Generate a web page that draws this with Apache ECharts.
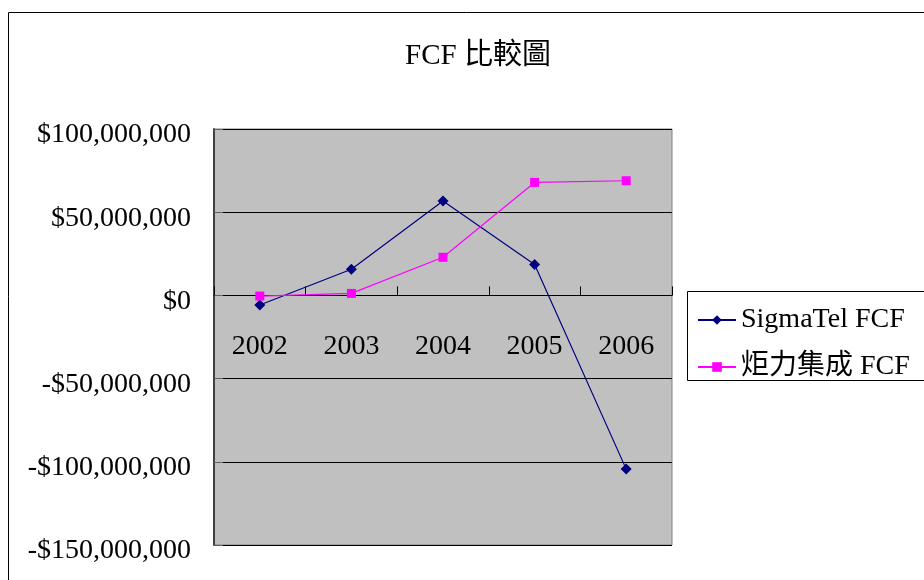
<!DOCTYPE html>
<html>
<head>
<meta charset="utf-8">
<script src="https://cdn.jsdelivr.net/npm/echarts@6/dist/echarts.min.js"></script>
<style>
html,body{margin:0;padding:0;background:#fff;}
#chart{width:924px;height:580px;}
</style>
</head>
<body>
<div id="chart"></div>
<script>
var titleText = 'FCF 比較圖';
var years = ['2002', '2003', '2004', '2005', '2006'];
var seriesNames = ['SigmaTel FCF', '炬力集成 FCF'];
var sigmaTel = [-5800000, 15700000, 56700000, 18500000, -104400000];
var actions = [-400000, 1200000, 22900000, 67900000, 68900000];
var yTicks = [-150000000, -100000000, -50000000, 0, 50000000, 100000000];

var FONT = '"Liberation Serif", "Noto Sans CJK TC", serif';

function fmtMoney(v) {
  var neg = v < 0;
  var s = Math.abs(Math.round(v)).toString().replace(/\B(?=(\d{3})+(?!\d))/g, ',');
  return (neg ? '-$' : '$') + s;
}

var chart = echarts.init(document.getElementById('chart'));
chart.setOption({
  animation: false,
  backgroundColor: '#ffffff',
  graphic: [{
    type: 'rect',
    shape: {x: 8.5, y: 12.5, width: 960, height: 620},
    style: {fill: 'none', stroke: '#000', lineWidth: 1},
    silent: true, z: -10
  }, {
    type: 'rect',
    shape: {x: 687.5, y: 291.5, width: 400, height: 89},
    style: {fill: '#fff', stroke: '#000', lineWidth: 1},
    silent: true, z: -5
  }],
  title: {
    text: titleText,
    left: 473, textAlign: 'center', top: 37,
    textStyle: {fontFamily: FONT, fontSize: 29, fontWeight: 'normal', color: '#000'}
  },
  legend: {
    orient: 'vertical',
    left: 687, top: 292,
    padding: [12, 10, 1, 10],
    borderWidth: 0,
    itemWidth: 38, itemHeight: 12, itemGap: 15,
    textStyle: {fontFamily: FONT, fontSize: 28, color: '#000', lineHeight: 32},
    data: seriesNames
  },
  grid: {
    left: 214, top: 129, right: 252, bottom: 35,
    outerBoundsMode: 'none',
    show: true, backgroundColor: '#C0C0C0', borderColor: '#808080', borderWidth: 1,
    containLabel: false
  },
  xAxis: {
    type: 'category',
    data: years,
    boundaryGap: true,
    axisLine: {show: true, onZero: true, lineStyle: {color: '#000', width: 1}},
    axisTick: {show: true, inside: true, length: 9, lineStyle: {color: '#000'}},
    axisLabel: {margin: -212, fontFamily: FONT, fontSize: 28, color: '#000'},
    splitLine: {show: false}
  },
  yAxis: {
    type: 'value',
    min: yTicks[0], max: yTicks[yTicks.length - 1], interval: 50000000,
    axisLine: {show: true, lineStyle: {color: '#404040', width: 2}},
    axisTick: {show: true, inside: true, length: 9, lineStyle: {color: '#606060'}},
    axisLabel: {margin: 23, verticalAlign: 'top', lineHeight: 12, fontFamily: FONT, fontSize: 28, color: '#000', formatter: fmtMoney},
    splitLine: {show: true, lineStyle: {color: '#000', width: 1}}
  },
  series: [{
    name: seriesNames[0], type: 'line', data: sigmaTel,
    symbol: 'diamond', symbolSize: 11,
    lineStyle: {color: '#000080', width: 1.2},
    itemStyle: {color: '#000080'}
  }, {
    name: seriesNames[1], type: 'line', data: actions,
    symbol: 'rect', symbolSize: 9,
    lineStyle: {color: '#FF00FF', width: 1.2},
    itemStyle: {color: '#FF00FF'}
  }]
});
</script>
</body>
</html>
